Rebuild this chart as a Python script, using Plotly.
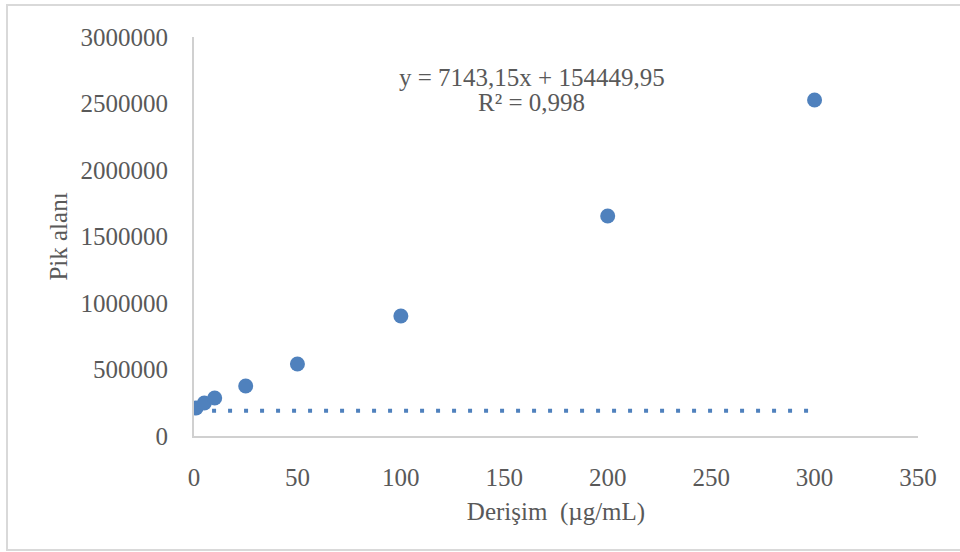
import plotly.graph_objects as go

# Data
conc = [1, 5, 10, 25, 50, 100, 200, 300]
peak_area = [210000, 248000, 286000, 376000, 541000, 902000, 1654000, 2526000]
trend_x = [1, 300]
trend_y = [190000, 190000]
eq_text = "y = 7143,15x + 154449,95"
r2_text = "R² = 0,998"
x_ticks = [0, 50, 100, 150, 200, 250, 300, 350]
y_ticks = [0, 500000, 1000000, 1500000, 2000000, 2500000, 3000000]

FONT = "Liberation Serif"
TXT = "#595959"
BLUE = "#4f81bd"
AXC = "#d0d0d0"

fig = go.Figure()
fig.add_trace(go.Scatter(
    x=trend_x, y=trend_y, mode="lines",
    line=dict(color=BLUE, width=4, dash="4px,12px"),
    showlegend=False, hoverinfo="skip"))
fig.add_trace(go.Scatter(
    x=conc, y=peak_area, mode="markers",
    marker=dict(color=BLUE, size=15, line=dict(width=0)),
    showlegend=False))

fig.add_annotation(x=163.3, y=2692000, xref="x", yref="y", text=eq_text,
                   showarrow=False, font=dict(family=FONT, size=25, color=TXT))
fig.add_annotation(x=163.3, y=2504000, xref="x", yref="y", text=r2_text,
                   showarrow=False, font=dict(family=FONT, size=25, color=TXT))

# outer chart border
fig.add_shape(type="rect", xref="paper", yref="paper",
              x0=(7 - 194) / 724, x1=(965 - 194) / 724,
              y0=(436 - 550) / 399, y1=(436 - 5) / 399,
              line=dict(color="#d9d9d9", width=2), layer="below")

fig.update_layout(
    width=960, height=552,
    margin=dict(l=194, r=42, t=37, b=116),
    paper_bgcolor="white", plot_bgcolor="white",
    font=dict(family=FONT, size=25, color=TXT),
    xaxis=dict(range=[0, 350], tickvals=x_ticks, ticktext=[str(v) for v in x_ticks],
               showgrid=False, zeroline=False, showline=True, linecolor=AXC, linewidth=2,
               ticks="", ticklabelstandoff=18,
               tickfont=dict(family=FONT, size=25, color=TXT),
               title=dict(text="Derişim  (µg/mL)", standoff=12,
                          font=dict(family=FONT, size=25, color=TXT))),
    yaxis=dict(range=[0, 3000000], tickvals=y_ticks, ticktext=[str(v) for v in y_ticks],
               showgrid=False, zeroline=False, showline=True, linecolor=AXC, linewidth=2,
               ticks="", ticklabelstandoff=19,
               tickfont=dict(family=FONT, size=25, color=TXT),
               title=dict(text="Pik alanı", standoff=6,
                          font=dict(family=FONT, size=25, color=TXT))),
)

fig.write_html("out.html")
